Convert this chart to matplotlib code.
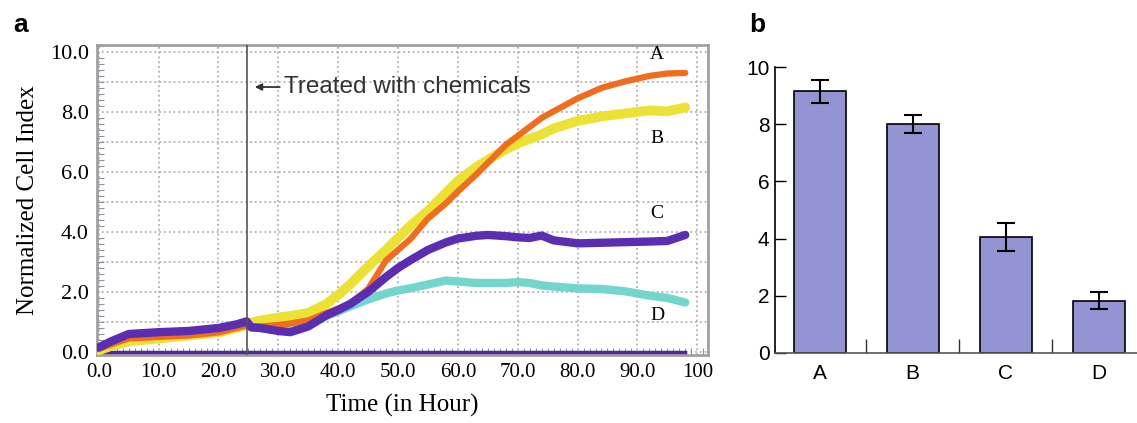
import matplotlib
matplotlib.use('Agg')
import matplotlib.pyplot as plt
from matplotlib.ticker import MultipleLocator

# panel a: normalized cell index curves
hours = [0, 2, 5, 10, 15, 20, 23, 24.7, 25.5, 27, 30, 32, 35, 38, 40, 42, 45, 48, 50,
         52, 55, 58, 60, 63, 65, 68, 70, 72, 74, 76, 80, 84, 88, 92, 95, 98]
curve_a = [0.1, 0.25, 0.45, 0.5, 0.55, 0.65, 0.8, 0.88, 0.85, 0.85, 0.9, 0.95, 1.05, 1.3,
           1.45, 1.62, 2.1, 3.05, 3.4, 3.75, 4.45, 4.95, 5.35, 5.9, 6.3, 6.9, 7.2, 7.5,
           7.8, 8.02, 8.45, 8.8, 9.02, 9.2, 9.28, 9.3]
curve_b = [0.05, 0.2, 0.35, 0.45, 0.55, 0.65, 0.8, 0.9, 0.98, 1.05, 1.15, 1.2, 1.3, 1.6,
           1.9, 2.25, 2.85, 3.4, 3.8, 4.2, 4.7, 5.3, 5.7, 6.15, 6.4, 6.75, 6.95, 7.1,
           7.25, 7.45, 7.7, 7.85, 7.95, 8.05, 8.02, 8.15]
curve_c = [0.15, 0.35, 0.6, 0.66, 0.7, 0.8, 0.92, 1.02, 0.82, 0.8, 0.7, 0.66, 0.85, 1.22,
           1.4, 1.6, 2.0, 2.5, 2.8, 3.05, 3.4, 3.65, 3.78, 3.87, 3.9, 3.86, 3.82, 3.8,
           3.88, 3.72, 3.62, 3.64, 3.66, 3.68, 3.7, 3.9]
curve_d = [0.1, 0.25, 0.45, 0.52, 0.56, 0.68, 0.82, 0.92, 0.82, 0.8, 0.72, 0.72, 0.88, 1.2,
           1.35, 1.52, 1.75, 1.95, 2.05, 2.12, 2.25, 2.38, 2.35, 2.3, 2.3, 2.3, 2.33, 2.3,
           2.22, 2.18, 2.12, 2.1, 2.02, 1.88, 1.8, 1.65]
baseline_t = [0, 98]
baseline_y = [0, 0]
treat_time = 24.7

curve_names = ['A', 'B', 'C', 'D']
name_y = [9.9, 7.1, 4.63, 1.23]
x_ticks = [0, 10, 20, 30, 40, 50, 60, 70, 80, 90, 100]
x_tick_labels = ['0.0', '10.0', '20.0', '30.0', '40.0', '50.0', '60.0', '70.0', '80.0', '90.0', '100']
y_ticks = [0, 2, 4, 6, 8, 10]
y_tick_labels = ['0.0', '2.0', '4.0', '6.0', '8.0', '10.0']

# panel b: bar chart
groups = ['A', 'B', 'C', 'D']
bar_vals = [9.15, 8.0, 4.05, 1.83]
bar_err = [0.4, 0.32, 0.5, 0.3]

serif = 'Liberation Serif'
sans = 'Liberation Sans'

fig = plt.figure(figsize=(11.37, 4.23), dpi=100)

ax = fig.add_axes([0.0853, 0.1608, 0.5374, 0.7328])
ax.set_xlim(-0.3, 101.8)
ax.set_ylim(-0.1, 10.23)
ax.set_xticks(x_ticks)
ax.set_xticklabels(x_tick_labels, fontfamily=serif, fontsize=15)
ax.set_yticks(y_ticks)
ax.set_yticklabels(y_tick_labels, fontfamily=serif, fontsize=16)
ax.xaxis.set_minor_locator(MultipleLocator(1))
ax.yaxis.set_minor_locator(MultipleLocator(0.2))
ax.tick_params(which='major', length=0, pad=6)
ax.tick_params(which='minor', direction='in', length=5, color='#9090a0', width=0.8)
ax.grid(True, which='major', axis='x', color='#b0b0b0', linestyle=':', linewidth=1.3)
for yy in range(0, 11):
    ax.axhline(yy, color='#b0b0b0', linestyle=':', linewidth=1.3, zorder=0)
for sp in ax.spines.values():
    sp.set_color('#a0a0a0')
    sp.set_linewidth(2)

ax.plot(baseline_t, baseline_y, color='#4b2a9a', linewidth=2.5, zorder=3)
ax.plot(hours, curve_d, color='#72d6cf', linewidth=6, solid_capstyle='round', zorder=3)
ax.plot(hours, curve_b, color='#ece236', linewidth=7, solid_capstyle='round', zorder=3)
ax.plot(hours, curve_a, color='#ef6d1c', linewidth=4.5, solid_capstyle='round', zorder=3)
ax.plot(hours, curve_c, color='#5b2db0', linewidth=6, solid_capstyle='round', zorder=4)

ax.axvline(treat_time, color='#555555', linewidth=1.2, zorder=5)
ax.annotate('', xy=(treat_time + 0.9, 8.83), xytext=(treat_time + 6.0, 8.83),
            arrowprops=dict(arrowstyle='-|>', color='#333333', lw=1.3, mutation_scale=10))
ax.text(treat_time + 6.3, 8.83, 'Treated with chemicals', family=sans,
        fontsize=17.5, ha='left', va='center', color='#333333')
for nm, yy in zip(curve_names, name_y):
    ax.text(93.3, yy, nm, family=serif, fontsize=14, ha='center', va='center')

ax.set_xlabel('Time (in Hour)', fontfamily=serif, fontsize=18, labelpad=8)
ax.set_ylabel('Normalized Cell Index', fontfamily=serif, fontsize=18, labelpad=8)

# bar panel
bx = fig.add_axes([0.6816, 0.1655, 0.3184, 0.6761])
pos = list(range(len(groups)))
bx.bar(pos, bar_vals, width=0.56, color='#9494d4', edgecolor='black', linewidth=1.2,
       yerr=bar_err, capsize=6.5, error_kw=dict(elinewidth=1.5, capthick=1.5, ecolor='black'))
bx.set_xlim(-0.48, 3.41)
bx.set_ylim(0, 10)
bx.set_yticks([0, 2, 4, 6, 8, 10])
bx.set_yticklabels(['0', '2', '4', '6', '8', '10'], fontfamily=sans, fontsize=15)
bx.set_xticks(pos)
bx.set_xticklabels(groups, fontfamily=sans, fontsize=15)
bx.set_xticks([0.5, 1.5, 2.5], minor=True)
bx.tick_params(axis='x', which='major', length=0, pad=8)
bx.tick_params(axis='x', which='minor', direction='in', length=10, width=1, color='#333333')
bx.tick_params(axis='y', direction='in', length=8, width=1, pad=4)
bx.spines['top'].set_visible(False)
bx.spines['right'].set_visible(False)
bx.spines['left'].set_linewidth(1.2)
bx.spines['bottom'].set_color('#555555')
bx.spines['bottom'].set_linewidth(1.2)

fig.text(0.012, 0.94, 'a', family=sans, fontsize=19, fontweight='bold', va='center')
fig.text(0.659, 0.94, 'b', family=sans, fontsize=19, fontweight='bold', va='center')

fig.savefig('out.png', dpi=100)
